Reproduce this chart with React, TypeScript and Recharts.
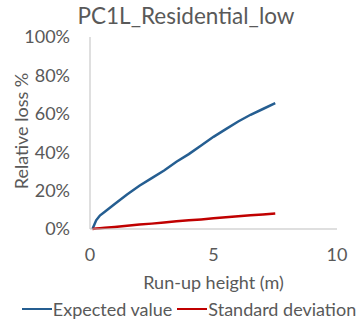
import { LineChart, Line, XAxis, YAxis, Legend } from 'recharts';

const runupHeight = [0.1, 0.25, 0.4, 0.6, 1, 1.5, 2, 2.5, 3, 3.5, 4, 4.5, 5, 5.5, 6, 6.5, 7, 7.5];
const expectedValue = [0, 4.5, 7, 9, 13, 18, 22.5, 26.5, 30.5, 35, 39, 43.5, 48, 52, 56, 59.5, 62.5, 65.5];
const standardDeviation = [0, 0.2, 0.4, 0.6, 1.1, 1.7, 2.3, 2.8, 3.4, 4, 4.5, 5, 5.6, 6.1, 6.6, 7.1, 7.6, 8.1];
const xTicks = [0, 5, 10];
const yTicks = [0, 20, 40, 60, 80, 100];

const data = runupHeight.map((x, i) => ({
    x,
    expected: expectedValue[i],
    sd: standardDeviation[i],
}));

const FONT = 'Lato, "Liberation Sans", sans-serif';
const TEXT = '#595959';
const AXIS = '#BFBFBF';

const LegendContent = ({ payload }: any) => (
    <div style={{ display: 'flex', justifyContent: 'center', gap: 5, fontFamily: FONT, fontSize: 18, color: TEXT }}>
        {(payload || []).map((p: any, i: number) => (
            <div key={i} style={{ display: 'flex', alignItems: 'center' }}>
                <span style={{ width: 30, height: 2, background: p.color, marginRight: 1 }} />
                <span>{p.value}</span>
            </div>
        ))}
    </div>
);

export default function App() {
    return (
        <div style={{ position: 'absolute', left: 0, top: 0, width: 362, height: 328, background: '#fff' }}>
            <div style={{ position: 'absolute', left: 0, top: 4, width: 372, textAlign: 'center', fontFamily: FONT, fontSize: 22.5, lineHeight: '24px', color: TEXT }}>
                PC1L_Residential_low
            </div>
            <LineChart width={362} height={328} data={data} margin={{ top: 37, right: 25, bottom: 39, left: 0 }}>
                <XAxis
                    type="number"
                    dataKey="x"
                    domain={[0, 10]}
                    ticks={xTicks}
                    tickLine={false}
                    tickSize={0}
                    tickMargin={19}
                    height={60}
                    stroke={AXIS}
                    tick={{ fill: TEXT, fontSize: 18, fontFamily: FONT }}
                    label={{ value: 'Run-up height (m)', position: 'insideBottom', offset: 0, fill: TEXT, fontSize: 18, fontFamily: FONT }}
                />
                <YAxis
                    type="number"
                    domain={[0, 100]}
                    ticks={yTicks}
                    tickFormatter={(v: number) => `${v}%`}
                    tickLine={false}
                    tickSize={0}
                    tickMargin={20}
                    width={90}
                    stroke={AXIS}
                    tick={{ fill: TEXT, fontSize: 18, fontFamily: FONT }}
                    label={{ value: 'Relative loss %', angle: -90, position: 'center', dx: -23, dy: -2, fill: TEXT, fontSize: 18, fontFamily: FONT }}
                />
                <Legend
                    layout="horizontal"
                    verticalAlign="middle"
                    align="center"
                    content={<LegendContent />}
                    wrapperStyle={{ top: 298, left: 8, width: 362 }}
                />
                <Line type="linear" dataKey="expected" name="Expected value" stroke="#255E91" strokeWidth={2.5} dot={false} isAnimationActive={false} />
                <Line type="linear" dataKey="sd" name="Standard deviation" stroke="#C00000" strokeWidth={2.5} dot={false} isAnimationActive={false} />
            </LineChart>
        </div>
    );
}
